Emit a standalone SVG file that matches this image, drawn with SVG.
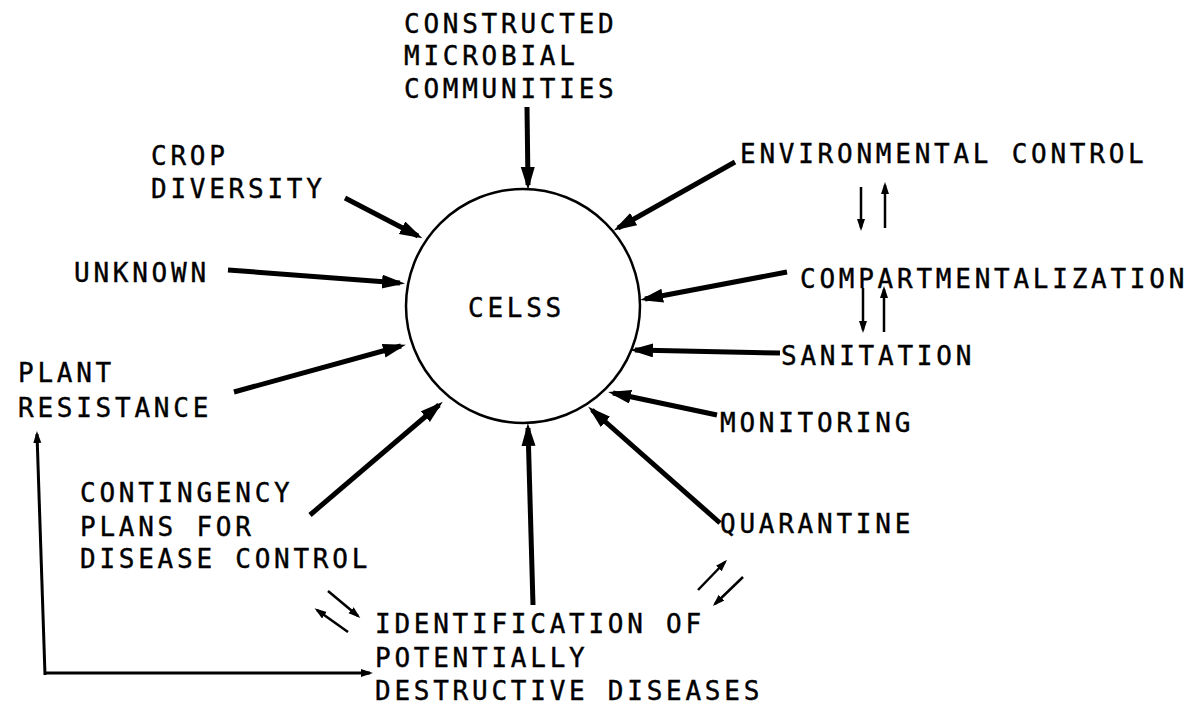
<svg xmlns="http://www.w3.org/2000/svg" width="1198" height="705" viewBox="0 0 1198 705">
<defs>
<style>
text{font-family:"DejaVu Sans Mono","Liberation Mono",monospace;font-size:26px;letter-spacing:3.75px;fill:#000;stroke:#000;stroke-width:0.4}
.main{stroke:#000;stroke-width:5;fill:none;marker-end:url(#big)}
.pair{stroke:#000;stroke-width:2.5;fill:none;marker-end:url(#small)}
.thin{stroke:#000;stroke-width:3;fill:none;marker-end:url(#small)}
</style>
<marker id="big" markerUnits="userSpaceOnUse" markerWidth="24" markerHeight="16" refX="18" refY="7" orient="auto"><path d="M0,0 L23,7 L0,14 z" fill="#000"/></marker>
<marker id="small" markerUnits="userSpaceOnUse" markerWidth="14" markerHeight="10" refX="9" refY="4" orient="auto"><path d="M0,0 L12,4 L0,8 z" fill="#000"/></marker>
</defs>
<rect width="1198" height="705" fill="#fff"/>
<g id="celss"><circle cx="523" cy="306" r="117" fill="none" stroke="#000" stroke-width="2.5"/><text x="468" y="317">CELSS</text></g>
<g id="constructed"><text x="404" y="33">CONSTRUCTED</text><text x="404" y="65">MICROBIAL</text><text x="404" y="98">COMMUNITIES</text></g>
<g id="crop"><text x="151" y="165">CROP</text><text x="151" y="198">DIVERSITY</text></g>
<g id="unknown"><text x="74" y="282">UNKNOWN</text></g>
<g id="plant"><text x="18" y="382">PLANT</text><text x="18" y="417">RESISTANCE</text></g>
<g id="contingency"><text x="80" y="502">CONTINGENCY</text><text x="80" y="536">PLANS FOR</text><text x="80" y="568">DISEASE CONTROL</text></g>
<g id="identification"><text x="375" y="633">IDENTIFICATION OF</text><text x="375" y="667">POTENTIALLY</text><text x="375" y="700">DESTRUCTIVE DISEASES</text></g>
<g id="quarantine"><text x="720" y="533">QUARANTINE</text></g>
<g id="monitoring"><text x="720" y="432">MONITORING</text></g>
<g id="sanitation"><text x="781" y="365">SANITATION</text></g>
<g id="compartmentalization"><text x="800" y="288">COMPARTMENTALIZATION</text></g>
<g id="environmental"><text x="740" y="163">ENVIRONMENTAL CONTROL</text></g>
<g id="connectors">
<line class="main" x1="527" y1="107" x2="528" y2="185"/>
<line class="main" x1="345" y1="198" x2="418" y2="236"/>
<line class="main" x1="228" y1="270" x2="400" y2="283"/>
<line class="main" x1="234" y1="392" x2="401" y2="346"/>
<line class="main" x1="310" y1="515" x2="439" y2="405"/>
<line class="main" x1="533" y1="605" x2="528" y2="428"/>
<line class="main" x1="720" y1="523" x2="592" y2="410"/>
<line class="main" x1="717" y1="415" x2="613" y2="393"/>
<line class="main" x1="780" y1="353" x2="635" y2="350"/>
<line class="main" x1="787" y1="272" x2="645" y2="299"/>
<line class="main" x1="735" y1="162" x2="618" y2="228"/>
<line class="pair" x1="861" y1="187" x2="861" y2="228"/>
<line class="pair" x1="885" y1="228" x2="885" y2="185"/>
<line class="pair" x1="863" y1="288" x2="863" y2="330"/>
<line class="pair" x1="884" y1="332" x2="884" y2="289"/>
<line class="pair" x1="698" y1="590" x2="725" y2="562"/>
<line class="pair" x1="743" y1="577" x2="715" y2="604"/>
<line class="pair" x1="328" y1="591" x2="358" y2="616"/>
<line class="pair" x1="348" y1="632" x2="317" y2="610"/>
<line class="thin" x1="45" y1="673" x2="370" y2="673"/>
<line class="thin" x1="45" y1="675" x2="37" y2="434"/>
</g>
</svg>
